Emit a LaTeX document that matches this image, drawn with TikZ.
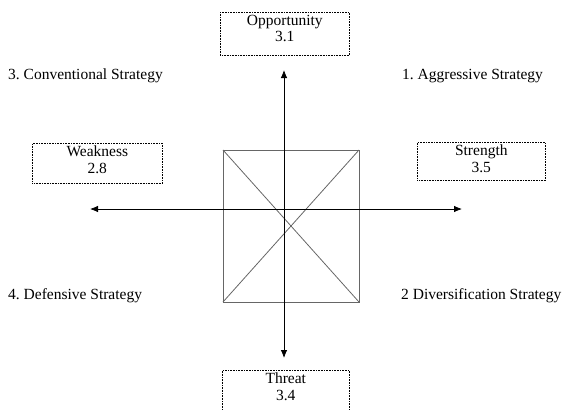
\documentclass[tikz,border=0pt]{standalone}
\usepackage{fontspec}
\setmainfont{Liberation Serif}
\usetikzlibrary{arrows.meta}
\frenchspacing
\begin{document}
\begin{tikzpicture}[x=1pt,y=-1pt,
  factor/.style={draw,densely dotted,line width=0.6pt,anchor=north west,inner sep=0pt},
  factortext/.style={align=center,inner sep=0pt,anchor=north,font=\fontsize{15.5}{16.5}\selectfont},
  quadrant/.style={font=\fontsize{15.5}{16}\selectfont,anchor=west,inner sep=0pt},
  axis/.style={line width=0.8pt,-{Latex[length=8pt,width=6.5pt]}},
  grid/.style={draw=black!60,line width=0.8pt}]
\useasboundingbox (0,0) rectangle (566,410);
% central square with diagonals
\coordinate (sq-nw) at (223,150);
\coordinate (sq-ne) at (359,150);
\coordinate (sq-se) at (359,302);
\coordinate (sq-sw) at (223,302);
\draw[grid] (sq-nw) -- (sq-ne) -- (sq-se) -- (sq-sw) -- cycle;
\draw[grid] (sq-nw) -- (sq-se);
\draw[grid] (sq-ne) -- (sq-sw);
% axes
\coordinate (c) at (284,209);
\coordinate (up) at (284,70);
\coordinate (down) at (284,358);
\coordinate (left) at (90,209);
\coordinate (right) at (462,209);
\draw[axis] (c) -- (up);
\draw[axis] (c) -- (down);
\draw[axis] (c) -- (left);
\draw[axis] (c) -- (right);
% factor boxes
\node[factor,minimum width=129pt,minimum height=43pt] (opp) at (220,12) {};
\node[factor,minimum width=130pt,minimum height=40pt] (weak) at (32,143) {};
\node[factor,minimum width=128pt,minimum height=38pt] (str) at (417,142) {};
\node[factor,minimum width=127pt,minimum height=45pt] (thr) at (222,370) {};
\node[factortext] (opp-t) at ([yshift=-3pt]opp.north) {Opportunity\\3.1};
\node[factortext] (weak-t) at ([yshift=-3pt]weak.north) {Weakness\\2.8};
\node[factortext] (str-t) at ([yshift=-3pt]str.north) {Strength\\3.5};
\node[factortext] (thr-t) at ([yshift=-3pt]thr.north) {Threat\\3.4};
% strategy labels
\node[quadrant] (q3) at (8,76) {3. Conventional Strategy};
\node[quadrant] (q1) at (402,76) {1. Aggressive Strategy};
\node[quadrant] (q4) at (8,296) {4. Defensive Strategy};
\node[quadrant] (q2) at (401,296) {2 Diversification Strategy};
\end{tikzpicture}
\end{document}
